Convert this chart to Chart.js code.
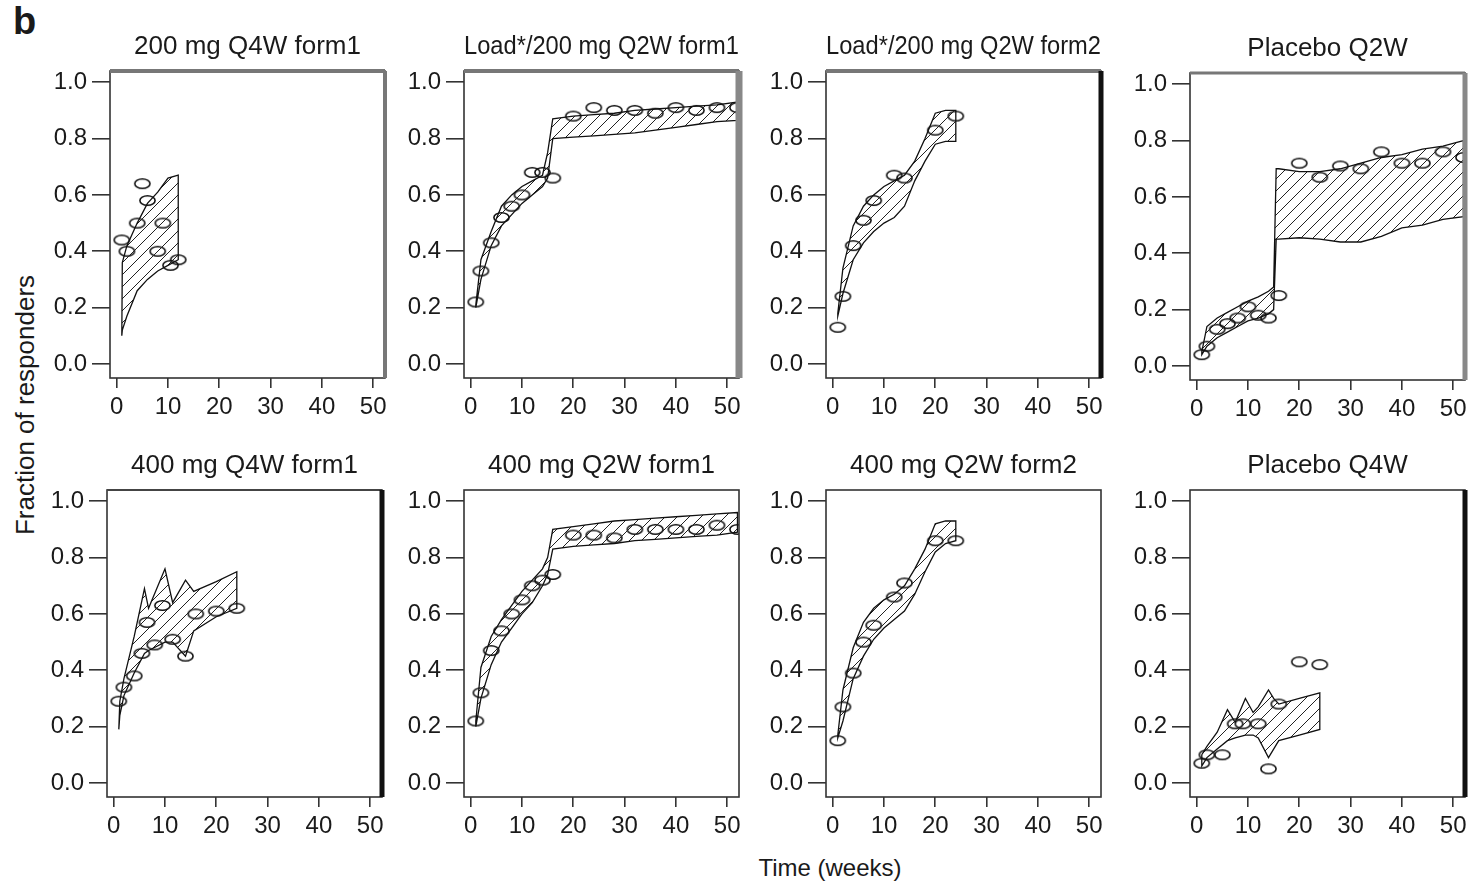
<!DOCTYPE html>
<html>
<head>
<meta charset="utf-8">
<script src="https://cdn.jsdelivr.net/npm/chart.js@4.4.0/dist/chart.umd.min.js"></script>
<style>
  body { margin: 0; background: #fff; width: 1472px; height: 882px; position: relative; overflow: hidden;
         font-family: "Liberation Sans", Arial, sans-serif; color: #1a1a1a; }
  .panel { position: absolute; }
  #tag { position: absolute; left: 13px; top: 0px; font-size: 38px; font-weight: bold; }
  #ylab { position: absolute; left: 25px; top: 405px; transform: translate(-50%, -50%) rotate(-90deg);
          font-size: 26px; white-space: nowrap; }
  #xlab { position: absolute; left: 830px; top: 868px; transform: translate(-50%, -50%);
          font-size: 24px; white-space: nowrap; }
</style>
</head>
<body>
<div id="tag">b</div>
<div id="ylab">Fraction of responders</div>
<div id="xlab">Time (weeks)</div>

<script>
// Panel titles and shared ticks
const titles = ['200 mg Q4W form1', 'Load*/200 mg Q2W form1', 'Load*/200 mg Q2W form2', 'Placebo Q2W',
                '400 mg Q4W form1', '400 mg Q2W form1', '400 mg Q2W form2', 'Placebo Q4W'];
const xTicks = [0, 10, 20, 30, 40, 50];
const yTicks = [0, 0.2, 0.4, 0.6, 0.8, 1.0];

// 200 mg Q4W form1
const p1Week = [1, 2, 4, 5, 6, 8, 9, 10.5, 12];
const p1Obs = [0.44, 0.40, 0.50, 0.64, 0.58, 0.40, 0.50, 0.35, 0.37];
const p1BandWeek = [1, 1.1, 2, 4, 6, 8, 10, 12];
const p1Hi = [0.10, 0.36, 0.42, 0.50, 0.57, 0.61, 0.66, 0.67];
const p1Lo = [0.10, 0.12, 0.17, 0.26, 0.30, 0.33, 0.35, 0.37];

// Load*/200 mg Q2W form1
const p2Week = [1, 2, 4, 6, 8, 10, 12, 14, 16, 20, 24, 28, 32, 36, 40, 44, 48, 52];
const p2Obs = [0.22, 0.33, 0.43, 0.52, 0.56, 0.60, 0.68, 0.68, 0.66, 0.88, 0.91, 0.90, 0.90, 0.89, 0.91, 0.90, 0.91, 0.91];
const p2BandWeek = [1, 2, 4, 6, 8, 10, 12, 14, 15, 16, 20, 24, 28, 32, 36, 40, 44, 48, 52];
const p2Hi = [0.21, 0.37, 0.47, 0.56, 0.60, 0.63, 0.65, 0.67, 0.75, 0.87, 0.88, 0.885, 0.89, 0.90, 0.905, 0.91, 0.915, 0.92, 0.93];
const p2Lo = [0.20, 0.30, 0.42, 0.49, 0.53, 0.57, 0.60, 0.63, 0.66, 0.80, 0.805, 0.81, 0.815, 0.82, 0.83, 0.84, 0.85, 0.86, 0.865];

// Load*/200 mg Q2W form2
const p3Week = [1, 2, 4, 6, 8, 12, 14, 20, 24];
const p3Obs = [0.13, 0.24, 0.42, 0.51, 0.58, 0.67, 0.66, 0.83, 0.88];
const p3BandWeek = [1, 2, 4, 6, 8, 10, 12, 14, 16, 18, 20, 22, 24];
const p3Hi = [0.18, 0.34, 0.49, 0.56, 0.60, 0.63, 0.65, 0.67, 0.72, 0.80, 0.89, 0.90, 0.90];
const p3Lo = [0.17, 0.25, 0.37, 0.43, 0.47, 0.50, 0.52, 0.56, 0.65, 0.72, 0.78, 0.79, 0.79];

// Placebo Q2W
const p4Week = [1, 2, 4, 6, 8, 10, 12, 14, 16, 20, 24, 28, 32, 36, 40, 44, 48, 52];
const p4Obs = [0.04, 0.07, 0.13, 0.15, 0.17, 0.21, 0.18, 0.17, 0.25, 0.72, 0.67, 0.71, 0.70, 0.76, 0.72, 0.72, 0.76, 0.74];
const p4BandWeek = [1, 2, 4, 6, 8, 10, 12, 14, 15, 15.5, 16, 20, 24, 28, 32, 36, 40, 44, 48, 52];
const p4Hi = [0.05, 0.14, 0.17, 0.19, 0.21, 0.23, 0.245, 0.265, 0.28, 0.70, 0.70, 0.69, 0.69, 0.70, 0.72, 0.74, 0.75, 0.77, 0.78, 0.80];
const p4Lo = [0.04, 0.07, 0.10, 0.12, 0.14, 0.16, 0.17, 0.185, 0.20, 0.45, 0.45, 0.455, 0.45, 0.44, 0.44, 0.46, 0.49, 0.50, 0.52, 0.53];

// 400 mg Q4W form1
const p5Week = [1, 2, 4, 5.5, 6.5, 8, 9.5, 11.5, 14, 16, 20, 24];
const p5Obs = [0.29, 0.34, 0.38, 0.46, 0.57, 0.49, 0.63, 0.51, 0.45, 0.60, 0.61, 0.62];
const p5BandWeek = [1, 1.2, 2, 4, 6, 6.8, 10, 11.5, 14, 15.6, 20, 24];
const p5Hi = [0.19, 0.29, 0.37, 0.52, 0.69, 0.62, 0.76, 0.64, 0.72, 0.68, 0.715, 0.75];
const p5Lo = [0.19, 0.24, 0.31, 0.39, 0.46, 0.47, 0.50, 0.50, 0.45, 0.54, 0.59, 0.62];

// 400 mg Q2W form1
const p6Week = [1, 2, 4, 6, 8, 10, 12, 14, 16, 20, 24, 28, 32, 36, 40, 44, 48, 52];
const p6Obs = [0.22, 0.32, 0.47, 0.54, 0.60, 0.65, 0.70, 0.72, 0.74, 0.88, 0.88, 0.87, 0.90, 0.90, 0.90, 0.90, 0.915, 0.90];
const p6BandWeek = [1, 2, 4, 6, 8, 10, 12, 14, 15, 16, 20, 24, 28, 32, 36, 40, 44, 48, 52];
const p6Hi = [0.22, 0.41, 0.52, 0.58, 0.63, 0.68, 0.72, 0.76, 0.80, 0.90, 0.91, 0.92, 0.93, 0.935, 0.94, 0.945, 0.95, 0.955, 0.96];
const p6Lo = [0.20, 0.30, 0.42, 0.50, 0.55, 0.60, 0.64, 0.70, 0.74, 0.83, 0.84, 0.845, 0.85, 0.86, 0.865, 0.87, 0.875, 0.88, 0.89];

// 400 mg Q2W form2
const p7Week = [1, 2, 4, 6, 8, 12, 14, 20, 24];
const p7Obs = [0.15, 0.27, 0.39, 0.50, 0.56, 0.66, 0.71, 0.86, 0.86];
const p7BandWeek = [1, 2, 4, 6, 8, 10, 12, 14, 16, 18, 20, 22, 24];
const p7Hi = [0.17, 0.33, 0.48, 0.57, 0.62, 0.65, 0.67, 0.70, 0.76, 0.83, 0.92, 0.93, 0.93];
const p7Lo = [0.16, 0.22, 0.37, 0.45, 0.51, 0.55, 0.58, 0.61, 0.67, 0.75, 0.82, 0.85, 0.86];

// Placebo Q4W
const p8Week = [1, 2, 5, 7.5, 9, 12, 14, 16, 20, 24];
const p8Obs = [0.07, 0.10, 0.10, 0.21, 0.21, 0.21, 0.05, 0.28, 0.43, 0.42];
const p8BandWeek = [1, 2, 4, 6, 7.5, 9.5, 11, 12, 14, 15, 16, 20, 24];
const p8Hi = [0.10, 0.13, 0.18, 0.26, 0.215, 0.30, 0.25, 0.27, 0.33, 0.30, 0.28, 0.30, 0.32];
const p8Lo = [0.06, 0.09, 0.12, 0.15, 0.16, 0.17, 0.17, 0.16, 0.09, 0.12, 0.15, 0.17, 0.19];

const panels = [
    [p1Week, p1Obs, p1BandWeek, p1Hi, p1Lo],
    [p2Week, p2Obs, p2BandWeek, p2Hi, p2Lo],
    [p3Week, p3Obs, p3BandWeek, p3Hi, p3Lo],
    [p4Week, p4Obs, p4BandWeek, p4Hi, p4Lo],
    [p5Week, p5Obs, p5BandWeek, p5Hi, p5Lo],
    [p6Week, p6Obs, p6BandWeek, p6Hi, p6Lo],
    [p7Week, p7Obs, p7BandWeek, p7Hi, p7Lo],
    [p8Week, p8Obs, p8BandWeek, p8Hi, p8Lo]
];

// plot box placement (left, top) and the scanned-looking heavy edges
const boxPos = [[110, 71], [464, 71], [826, 71], [1190, 73], [107, 490], [464, 490], [826, 490], [1190, 490]];
const boxW = 275, boxH = 307;
const AXIS_W = 80, TITLE_H = 40, XAXIS_H = 42, PAD_R = 12;
const FONT = '"Liberation Sans", Arial, sans-serif';
const edges = [
    {top: [4, '#777'], right: [4, '#777']},
    {top: [4, '#777'], right: [7, '#888']},
    {top: [4, '#777'], right: [5, '#111']},
    {top: [3, '#777'], right: [5, '#888']},
    {top: [2, '#444'], right: [5, '#111']},
    {},
    {},
    {right: [5, '#111']}
];

// diagonal hatch for the prediction band
function makeHatch() {
    const c = document.createElement('canvas');
    c.width = c.height = 12;
    const g = c.getContext('2d');
    g.strokeStyle = '#222';
    g.lineWidth = 1;
    g.beginPath();
    g.moveTo(0, 12); g.lineTo(12, 0);
    g.moveTo(-1, 1); g.lineTo(1, -1);
    g.moveTo(11, 13); g.lineTo(13, 11);
    g.stroke();
    return g.createPattern(c, 'repeat');
}

// open ellipse marker
function makeEllipse() {
    const c = document.createElement('canvas');
    c.width = 19; c.height = 13;
    const g = c.getContext('2d');
    g.strokeStyle = '#111';
    g.lineWidth = 1.6;
    g.beginPath();
    g.ellipse(9.5, 6.5, 7.6, 4.8, 0, 0, Math.PI * 2);
    g.stroke();
    return c;
}

const hatch = makeHatch();
const marker = makeEllipse();

// frame around the plot region, with heavier top/right edges where needed
const boxPlugin = {
    id: 'box',
    afterDatasetsDraw(chart, args, opts) {
        const {ctx, chartArea: a} = chart;
        ctx.save();
        ctx.strokeStyle = '#333';
        ctx.lineWidth = 1.6;
        ctx.strokeRect(a.left, a.top, a.right - a.left, a.bottom - a.top);
        const seg = (spec, x1, y1, x2, y2) => {
            if (!spec) return;
            ctx.strokeStyle = spec[1];
            ctx.lineWidth = spec[0];
            ctx.beginPath();
            ctx.moveTo(x1, y1);
            ctx.lineTo(x2, y2);
            ctx.stroke();
        };
        seg(opts.top, a.left, a.top, a.right, a.top);
        seg(opts.right, a.right, a.top, a.right, a.bottom);
        ctx.restore();
    }
};

panels.forEach(([week, obs, bandWeek, hi, lo], i) => {
    const [bx, by] = boxPos[i];
    const div = document.createElement('div');
    div.className = 'panel';
    div.style.left = (bx - AXIS_W) + 'px';
    div.style.top = (by - TITLE_H) + 'px';
    const canvas = document.createElement('canvas');
    canvas.width = AXIS_W + boxW + PAD_R;
    canvas.height = TITLE_H + boxH + XAXIS_H;
    div.appendChild(canvas);
    document.body.appendChild(div);

    // band polygon: upper edge left->right, lower edge back, closed
    const upper = bandWeek.map((w, k) => ({x: w, y: hi[k]}));
    const lower = bandWeek.map((w, k) => ({x: w, y: lo[k]})).reverse();
    const polygon = upper.concat(lower, [upper[0]]);

    new Chart(canvas, {
        type: 'line',
        data: {
            datasets: [
                {
                    data: polygon,
                    fill: 'shape',
                    backgroundColor: hatch,
                    borderColor: '#111',
                    borderWidth: 1.3,
                    pointRadius: 0,
                    tension: 0
                },
                {
                    data: week.map((w, k) => ({x: w, y: obs[k]})),
                    showLine: false,
                    pointStyle: marker,
                    pointRadius: 7,
                    borderColor: '#111'
                }
            ]
        },
        options: {
            responsive: false,
            animation: false,
            layout: {padding: {left: 0, right: PAD_R, top: 0, bottom: 0}},
            plugins: {
                legend: {display: false},
                tooltip: {enabled: false},
                title: {
                    display: true,
                    text: titles[i],
                    fullSize: false,
                    color: '#1a1a1a',
                    font: {family: FONT, size: 26, weight: 'normal'},
                    padding: {top: 0, bottom: 8.8}
                },
                box: edges[i]
            },
            scales: {
                x: {
                    type: 'linear',
                    min: -1.3,
                    max: 52.3,
                    afterFit: s => { s.height = XAXIS_H; },
                    afterBuildTicks: s => { s.ticks = xTicks.map(v => ({value: v})); },
                    border: {display: false},
                    grid: {drawOnChartArea: false, drawTicks: true, tickLength: 10, color: '#333', lineWidth: 1.6},
                    ticks: {
                        color: '#1a1a1a',
                        padding: 5,
                        maxRotation: 0,
                        autoSkip: false,
                        font: {family: FONT, size: 24}
                    }
                },
                y: {
                    min: -0.05,
                    max: 1.04,
                    afterFit: s => { s.width = AXIS_W; },
                    afterBuildTicks: s => { s.ticks = yTicks.map(v => ({value: v})); },
                    border: {display: false},
                    grid: {drawOnChartArea: false, drawTicks: true, tickLength: 18, color: '#333', lineWidth: 1.6},
                    ticks: {
                        color: '#1a1a1a',
                        padding: 5,
                        autoSkip: false,
                        callback: v => v.toFixed(1),
                        font: {family: FONT, size: 24}
                    }
                }
            }
        },
        plugins: [boxPlugin]
    });
});
</script>
</body>
</html>
